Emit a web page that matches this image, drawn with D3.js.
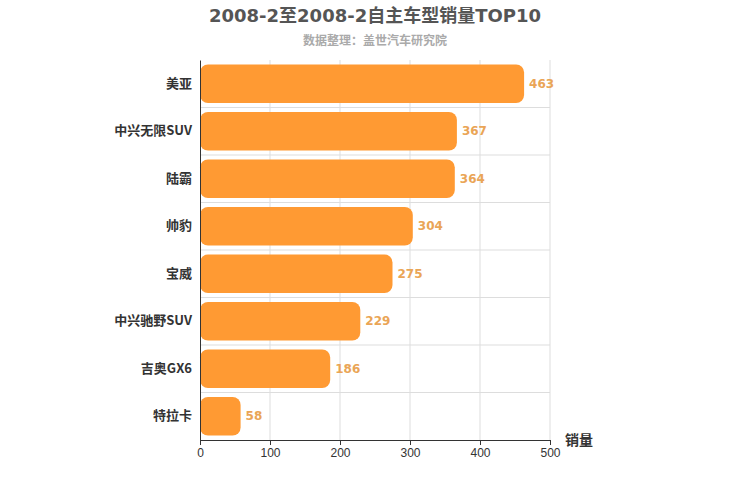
<!DOCTYPE html>
<html><head><meta charset="utf-8">
<script src="https://cdn.jsdelivr.net/npm/d3@7"></script>
<style>body{margin:0;background:#fff;font-family:"DejaVu Sans","Noto Sans CJK SC",sans-serif}</style>
</head><body><svg width="750" height="500"></svg>
<script>
const categories=["美亚","中兴无限SUV","陆霸","帅豹","宝威","中兴驰野SUV","吉奥GX6","特拉卡"];
const values=[463,367,364,304,275,229,186,58];
const xTicks=[0,100,200,300,400,500];
const svg=d3.select("svg");
const m={l:200,r:550,t:60,b:440};
const x=d3.scaleLinear().domain([0,500]).range([m.l,m.r]);
const y=d3.scaleBand().domain(categories).range([m.t,m.b]).paddingInner(0.19).paddingOuter(0.095);
const step=y.step();
svg.append("text").attr("x",375).attr("y",22).attr("text-anchor","middle").attr("font-size",18).attr("font-weight","bold").attr("fill","#555").text("2008-2至2008-2自主车型销量TOP10");
svg.append("text").attr("x",375).attr("y",45).attr("text-anchor","middle").attr("font-size",12).attr("font-weight","bold").attr("fill","#aaa").text("数据整理：盖世汽车研究院");
const g=svg.append("g");
xTicks.slice(1).forEach(t=>g.append("line").attr("x1",x(t)).attr("x2",x(t)).attr("y1",m.t).attr("y2",m.b).attr("stroke","#ddd"));
for(let i=1;i<categories.length;i++){const yy=m.t+i*step;g.append("line").attr("x1",m.l).attr("x2",m.r).attr("y1",yy).attr("y2",yy).attr("stroke","#ddd");}
g.selectAll("rect.b").data(values).join("rect").attr("x",x(0)).attr("y",(d,i)=>y(categories[i])).attr("width",d=>x(d)-x(0)).attr("height",y.bandwidth()).attr("rx",8).attr("fill","#ff9a33");
g.selectAll("text.v").data(values).join("text").attr("x",d=>x(d)+5).attr("y",(d,i)=>y(categories[i])+y.bandwidth()/2+4).attr("font-size",12).attr("font-weight","bold").attr("fill","#eaa556").text(d=>d);
const ya=svg.append("g").attr("transform",`translate(${m.l},0)`).call(d3.axisLeft(y).tickSize(0).tickPadding(8));
ya.select(".domain").attr("stroke","#333");
ya.selectAll("text").attr("font-size",13).attr("font-weight","bold").attr("fill","#333").attr("font-family","'Noto Sans CJK SC',sans-serif");
const xa=svg.append("g").attr("transform",`translate(0,${m.b})`).call(d3.axisBottom(x).tickValues(xTicks).tickSize(5).tickSizeOuter(0));
xa.select(".domain").attr("stroke","#333");xa.selectAll("line").attr("stroke","#333");
xa.selectAll("text").attr("font-size",12).attr("fill","#333");
svg.append("text").attr("x",565).attr("y",445).attr("font-size",14).attr("font-weight","bold").attr("fill","#333").text("销量");
</script></body></html>
